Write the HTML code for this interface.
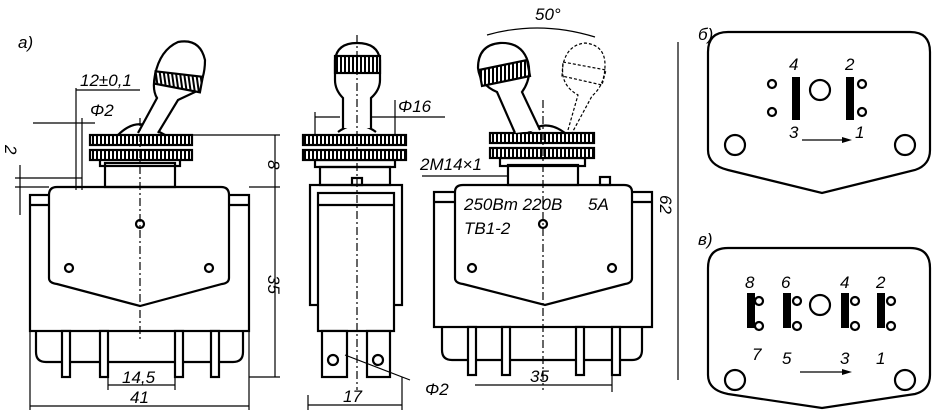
<!DOCTYPE html>
<html><head><meta charset="utf-8"><style>
html,body{margin:0;padding:0;background:#fff;}
svg{display:block}
text{font-family:"Liberation Sans",sans-serif;font-style:italic;fill:#000}
</style></head><body>
<svg width="933" height="413" viewBox="0 0 933 413" xmlns="http://www.w3.org/2000/svg">
<defs>
<pattern id="kn" width="4" height="4" patternUnits="userSpaceOnUse"><rect width="4" height="4" fill="#fff"/><rect width="2" height="4" fill="#000"/></pattern>
</defs>
<g fill="none" stroke="#000" stroke-width="2.2">
<!-- VIEW A -->
<rect x="30" y="195" width="219" height="136"/>
<line x1="30" y1="205" x2="49" y2="205"/><line x1="229" y1="205" x2="249" y2="205"/>
<path d="M49 195 Q49 187 57 187 L221 187 Q229 187 229 195 L229 278 Q229 283 222 284 L140 306 L57 284 Q49 283 49 278 Z" fill="#fff"/>
<path d="M36 331 L36 352 Q36 362 46 362 L233 362 Q243 362 243 352 L243 331"/>
<rect x="62" y="331" width="8" height="46" fill="#fff"/><rect x="100" y="331" width="8" height="46" fill="#fff"/>
<rect x="175" y="331" width="8" height="46" fill="#fff"/><rect x="211" y="331" width="8" height="46" fill="#fff"/>
<rect x="105" y="163" width="70" height="24"/>
<rect x="100" y="158" width="80" height="8"/>
<path d="M118 135 Q135 118 152 128 L165 135"/>
<rect x="90" y="135" width="102" height="10" fill="url(#kn)"/><rect x="90" y="150" width="102" height="10" fill="url(#kn)"/>
<path d="M138 133 L157 98 Q152 90 155 75 Q160 50 178 42 Q200 38 205 60 Q205 80 195 92 L178 100 L158 133" fill="#fff"/>
<path d="M157 68 L203 80 L198 95 L154 80 Z" fill="url(#kn)" transform="rotate(-8 180 80)"/>
<circle cx="140" cy="224" r="4"/><circle cx="69" cy="268" r="4"/><circle cx="209" cy="268" r="4"/>
<!-- VIEW B -->
<rect x="310" y="185" width="92" height="120"/>
<rect x="318" y="193" width="76" height="138" fill="#fff"/>
<line x1="318" y1="205" x2="394" y2="205"/>
<rect x="320" y="167" width="70" height="18"/>
<rect x="315" y="160" width="80" height="7"/>
<path d="M338 132 Q357 118 376 132"/>
<rect x="303" y="135" width="103" height="10" fill="url(#kn)"/><rect x="303" y="150" width="103" height="10" fill="url(#kn)"/>
<path d="M343 128 L343 98 Q335 90 335 80 L335 60 Q337 43 357 43 Q378 43 380 60 L380 80 Q380 90 371 98 L371 128" fill="#fff"/>
<rect x="335" y="56" width="45" height="17" fill="url(#kn)"/>
<rect x="352" y="178" width="10" height="7"/>
<rect x="322" y="331" width="25" height="46" fill="#fff"/><rect x="367" y="331" width="23" height="46" fill="#fff"/>
<circle cx="333" cy="360" r="5"/><circle cx="378" cy="360" r="5"/>
<!-- VIEW C -->
<rect x="434" y="192" width="218" height="135"/>
<line x1="434" y1="202" x2="455" y2="202"/><line x1="632" y1="202" x2="652" y2="202"/>
<path d="M455 192 Q455 185 463 185 L624 185 Q632 185 632 192 L632 278 Q632 283 625 284 L545 305 L463 284 Q455 283 455 278 Z" fill="#fff"/>
<path d="M442 327 L442 350 Q442 360 452 360 L632 360 Q642 360 642 350 L642 327"/>
<rect x="468" y="327" width="8" height="48" fill="#fff"/><rect x="502" y="327" width="8" height="48" fill="#fff"/>
<rect x="576" y="327" width="8" height="48" fill="#fff"/><rect x="612" y="327" width="8" height="48" fill="#fff"/>
<rect x="508" y="165" width="70" height="20"/>
<rect x="500" y="158" width="85" height="8"/>
<path d="M528 133 Q545 118 565 133"/>
<rect x="490" y="133" width="104" height="10" fill="url(#kn)"/><rect x="490" y="148" width="104" height="10" fill="url(#kn)"/>
<path d="M515 133 L497 92 Q480 85 478 68 Q478 45 500 43 Q522 42 528 62 Q532 78 522 92 L540 130" fill="#fff"/>
<path d="M479 70 L527 60 L530 76 L482 86 Z" fill="url(#kn)"/>
<g stroke-width="1.2" stroke-dasharray="3 2"><path d="M568 130 L578 95 Q560 85 563 65 Q567 45 585 43 Q605 45 605 65 Q605 85 592 96 L572 133"/><path d="M563 62 L606 70 L602 85 L562 76 Z"/></g>
<rect x="600" y="177" width="10" height="8"/>
<circle cx="543" cy="224" r="4"/><circle cx="472" cy="268" r="4"/><circle cx="612" cy="268" r="4"/>
<!-- PANEL б -->
<path d="M708 52 Q708 32 728 32 L910 32 Q930 32 930 52 L930 150 Q930 165 915 170 L822 193 L728 170 Q708 165 708 150 Z"/>
<circle cx="735" cy="145" r="10"/><circle cx="905" cy="145" r="10"/><circle cx="820" cy="90" r="10"/>
<circle cx="772" cy="84" r="4"/><circle cx="772" cy="112" r="4"/><circle cx="862" cy="84" r="4"/><circle cx="862" cy="112" r="4"/>
<!-- PANEL в -->
<path d="M708 268 Q708 248 728 248 L910 248 Q930 248 930 268 L930 375 Q930 390 915 394 L822 408 L728 394 Q708 390 708 375 Z"/>
<circle cx="735" cy="380" r="10"/><circle cx="905" cy="380" r="10"/><circle cx="820" cy="305" r="10"/>
<circle cx="759" cy="301" r="4"/><circle cx="759" cy="326" r="4"/><circle cx="797" cy="301" r="4"/><circle cx="797" cy="326" r="4"/>
<circle cx="855" cy="301" r="4"/><circle cx="855" cy="326" r="4"/><circle cx="891" cy="301" r="4"/><circle cx="891" cy="326" r="4"/>
</g>
<g fill="#000">
<rect x="792" y="77" width="8" height="43"/><rect x="846" y="77" width="8" height="43"/>
<rect x="747" y="293" width="8" height="35"/><rect x="783" y="293" width="8" height="35"/>
<rect x="841" y="293" width="8" height="35"/><rect x="877" y="293" width="8" height="35"/>
<path d="M852 140 L842 137 L842 143 Z"/><path d="M852 372 L842 369 L842 375 Z"/>
</g>
<g stroke="#000" stroke-width="1.2" fill="none">
<line x1="802" y1="140" x2="845" y2="140"/><line x1="800" y1="372" x2="845" y2="372"/>
<g stroke-dasharray="8 3 2 3"><line x1="140" y1="118" x2="140" y2="340"/><line x1="357" y1="35" x2="357" y2="390"/><line x1="543" y1="100" x2="543" y2="390"/></g>
<line x1="30" y1="406" x2="249" y2="406"/><line x1="30" y1="331" x2="30" y2="410"/><line x1="249" y1="331" x2="249" y2="410"/>
<line x1="108" y1="385" x2="175" y2="385"/><line x1="108" y1="377" x2="108" y2="390"/><line x1="175" y1="377" x2="175" y2="390"/>
<line x1="308" y1="405" x2="402" y2="405"/><line x1="308" y1="395" x2="308" y2="410"/><line x1="402" y1="377" x2="402" y2="410"/>
<line x1="475" y1="385" x2="612" y2="385"/><line x1="612" y1="375" x2="612" y2="392"/>
<line x1="275" y1="135" x2="275" y2="377"/><line x1="192" y1="135" x2="280" y2="135"/><line x1="249" y1="187" x2="280" y2="187"/><line x1="249" y1="377" x2="280" y2="377"/>
<line x1="678" y1="42" x2="678" y2="380"/>
<line x1="76" y1="90" x2="140" y2="90"/><line x1="76" y1="88" x2="76" y2="190"/><line x1="82" y1="118" x2="82" y2="190"/>
<line x1="33" y1="123" x2="95" y2="123"/><line x1="15" y1="178" x2="82" y2="178"/><line x1="15" y1="187" x2="49" y2="187"/><line x1="20" y1="165" x2="20" y2="215"/>
<line x1="315" y1="117" x2="340" y2="117"/><line x1="372" y1="117" x2="445" y2="117"/><line x1="315" y1="112" x2="315" y2="135"/><line x1="395" y1="100" x2="395" y2="135"/>
<line x1="422" y1="176" x2="508" y2="176"/><line x1="345" y1="355" x2="410" y2="380"/>
<path d="M487 35 Q540 20 595 37"/>
</g>
<g font-size="17">
<text x="18" y="48">a)</text>
<text x="80" y="86">12±0,1</text>
<text x="90" y="116">Φ2</text>
<text x="398" y="112">Φ16</text>
<text x="420" y="170">2M14×1</text>
<text x="464" y="210">250Вт 220В</text><text x="588" y="210">5A</text>
<text x="464" y="234">ТВ1-2</text>
<text x="122" y="383">14,5</text>
<text x="130" y="403">41</text>
<text x="343" y="402">17</text>
<text x="425" y="395">Φ2</text>
<text x="530" y="382">35</text>
<text x="535" y="20">50°</text>
<text x="268" y="160" transform="rotate(90 268 160)">8</text>
<text x="268" y="275" transform="rotate(90 268 275)">35</text>
<text x="660" y="195" transform="rotate(90 660 195)">62</text>
<text x="5" y="145" transform="rotate(90 5 145)">2</text>
<text x="698" y="40">б)</text>
<text x="698" y="245">в)</text>
<text x="789" y="70">4</text><text x="845" y="70">2</text>
<text x="789" y="138">3</text><text x="855" y="138">1</text>
<text x="745" y="288">8</text><text x="781" y="288">6</text><text x="840" y="288">4</text><text x="876" y="288">2</text>
<text x="752" y="360">7</text><text x="782" y="364">5</text><text x="840" y="364">3</text><text x="876" y="364">1</text>
</g>
</svg>
</body></html>
